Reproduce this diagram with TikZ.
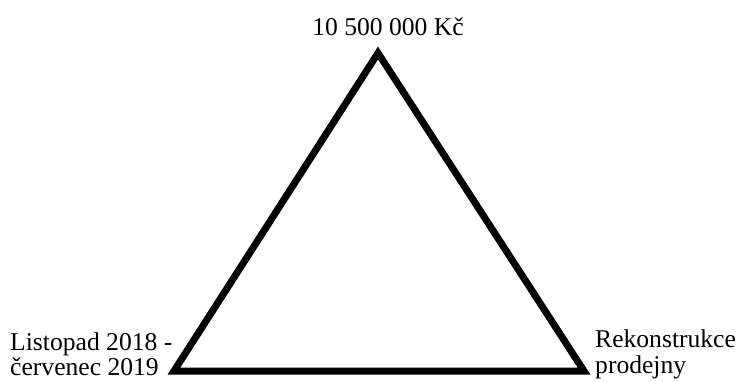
\documentclass[tikz,border=0pt]{standalone}
\usepackage{fontspec}
\setmainfont{Liberation Serif}
\begin{document}
\begin{tikzpicture}[x=1pt,y=-1pt,
  lbl/.style={inner sep=0pt,font=\fontsize{25.6}{28}\selectfont,text=black},
  edge/.style={line width=7pt,draw=black,line join=miter}]
\useasboundingbox[fill=white] (0,0) rectangle (739,381);
\coordinate (A) at (378,53);
\coordinate (L) at (174,371);
\coordinate (R) at (584,371);
\draw[edge] (A) -- (L) -- (R) -- cycle;
\node[lbl,anchor=base] (top) at (388,35) {10 500 000 Kč};
\node[lbl,anchor=base west] (l1) at (10,350) {Listopad 2018 -};
\node[lbl,anchor=base west] (l2) at (10,375) {červenec 2019};
\node[lbl,anchor=base west] (r1) at (595,347) {Rekonstrukce};
\node[lbl,anchor=base west] (r2) at (595,373) {prodejny};
\end{tikzpicture}
\end{document}
